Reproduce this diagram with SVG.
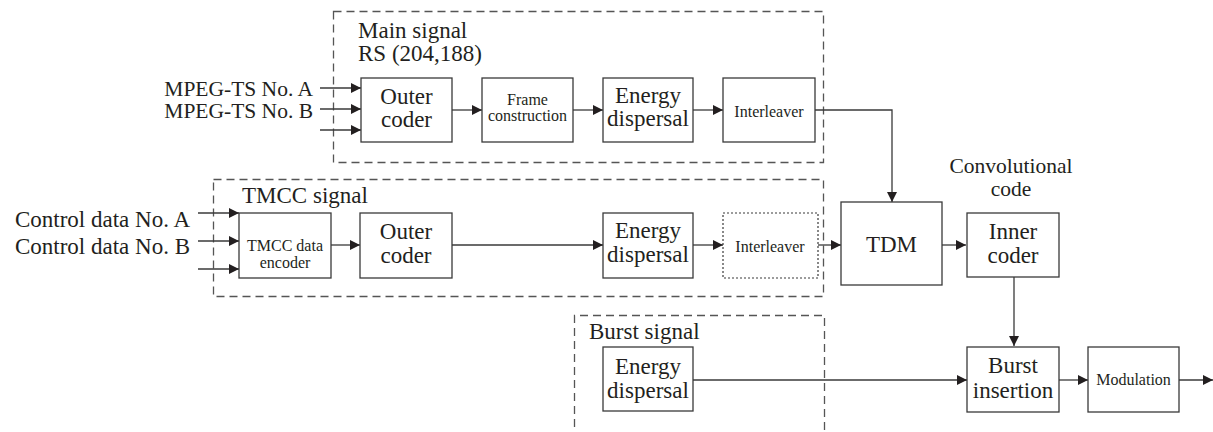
<svg xmlns="http://www.w3.org/2000/svg" width="1213" height="432" viewBox="0 0 1213 432">
<defs>
<marker id="ah" viewBox="0 0 10 10" refX="10" refY="5" markerWidth="10" markerHeight="10" markerUnits="userSpaceOnUse" orient="auto">
<path d="M0,0 L10,5 L0,10 z" fill="#231f20"/>
</marker>
</defs>
<style>
text{font-family:"Liberation Serif","Times New Roman",serif;fill:#231f20;}
.b{font-size:23px;}
.m{font-size:21.5px;}
.s{font-size:16px;}
.box{fill:#fff;stroke:#3a3a3a;stroke-width:1.3;}
.dot{fill:#fff;stroke:#3a3a3a;stroke-width:1.2;stroke-dasharray:2 2;}
.grp{fill:none;stroke:#555;stroke-width:1.3;stroke-dasharray:8 5;}
.c{fill:none;stroke:#3a3a3a;stroke-width:1.3;marker-end:url(#ah);}
</style>
<rect width="1213" height="432" fill="#fff"/>
<g id="groups">
<rect class="grp" x="333.5" y="11.5" width="490" height="151"/>
<rect class="grp" x="213.5" y="179.5" width="610" height="117"/>
<path class="grp" d="M574.5,440 V315.5 H824.5 V440"/>
<text class="b" x="358" y="38">Main signal</text>
<text class="b" x="358" y="61">RS (204,188)</text>
<text class="b" x="242" y="203">TMCC signal</text>
<text class="b" x="589" y="339">Burst signal</text>
<text class="m" x="1011" y="173" text-anchor="middle">Convolutional</text>
<text class="m" x="1011" y="196" text-anchor="middle">code</text>
</g>
<g id="inputs">
<text class="m" x="313" y="96" text-anchor="end">MPEG-TS No. A</text>
<text class="m" x="313" y="118" text-anchor="end">MPEG-TS No. B</text>
<text class="b" x="190" y="227" text-anchor="end">Control data No. A</text>
<text class="b" x="190" y="254" text-anchor="end">Control data No. B</text>
</g>
<g id="connectors">
<line class="c" x1="320" y1="88" x2="361" y2="88"/>
<line class="c" x1="320" y1="109" x2="361" y2="109"/>
<line class="c" x1="320" y1="130" x2="361" y2="130"/>
<line class="c" x1="452" y1="110" x2="482" y2="110"/>
<line class="c" x1="573" y1="110" x2="603" y2="110"/>
<line class="c" x1="693" y1="110" x2="723" y2="110"/>
<path class="c" d="M815,110 H892 V202"/>
<line class="c" x1="198" y1="213" x2="239" y2="213"/>
<line class="c" x1="198" y1="241" x2="239" y2="241"/>
<line class="c" x1="198" y1="269" x2="239" y2="269"/>
<line class="c" x1="331" y1="245" x2="360" y2="245"/>
<line class="c" x1="452" y1="245" x2="603" y2="245"/>
<line class="c" x1="693" y1="245" x2="723" y2="245"/>
<line class="c" x1="818" y1="245" x2="841" y2="245"/>
<line class="c" x1="942" y1="245" x2="966" y2="245"/>
<line class="c" x1="1014" y1="277" x2="1014" y2="346"/>
<line class="c" x1="693" y1="380" x2="967" y2="380"/>
<line class="c" x1="1059" y1="380" x2="1088" y2="380"/>
<line class="c" x1="1179" y1="380" x2="1213" y2="380"/>
</g>
<g id="main-outer-coder">
<rect class="box" x="361" y="78" width="91" height="64"/>
<text class="b" x="406.5" y="104" text-anchor="middle">Outer</text>
<text class="b" x="406.5" y="127" text-anchor="middle">coder</text>
</g>
<g id="frame-construction">
<rect class="box" x="482" y="78" width="91" height="64"/>
<text class="s" x="527.5" y="105" text-anchor="middle">Frame</text>
<text class="s" x="527.5" y="121" text-anchor="middle">construction</text>
</g>
<g id="main-energy-dispersal">
<rect class="box" x="603" y="78" width="90" height="64"/>
<text class="b" x="648" y="103" text-anchor="middle">Energy</text>
<text class="b" x="648" y="126" text-anchor="middle">dispersal</text>
</g>
<g id="main-interleaver">
<rect class="box" x="723" y="78" width="92" height="64"/>
<text class="s" x="769" y="117" text-anchor="middle">Interleaver</text>
</g>
<g id="tmcc-encoder">
<rect class="box" x="239" y="213" width="92" height="65"/>
<text class="s" x="285" y="251" text-anchor="middle">TMCC data</text>
<text class="s" x="285" y="268" text-anchor="middle">encoder</text>
</g>
<g id="tmcc-outer-coder">
<rect class="box" x="360" y="213" width="92" height="65"/>
<text class="b" x="406" y="239" text-anchor="middle">Outer</text>
<text class="b" x="406" y="263" text-anchor="middle">coder</text>
</g>
<g id="tmcc-energy-dispersal">
<rect class="box" x="603" y="213" width="90" height="65"/>
<text class="b" x="648" y="238" text-anchor="middle">Energy</text>
<text class="b" x="648" y="262" text-anchor="middle">dispersal</text>
</g>
<g id="tmcc-interleaver">
<rect class="dot" x="723" y="213" width="95" height="65"/>
<text class="s" x="770" y="252" text-anchor="middle">Interleaver</text>
</g>
<g id="tdm">
<rect class="box" x="841" y="202" width="101" height="83"/>
<text class="b" x="891.5" y="252" text-anchor="middle">TDM</text>
</g>
<g id="inner-coder">
<rect class="box" x="967" y="213" width="92" height="64"/>
<text class="b" x="1013" y="239" text-anchor="middle">Inner</text>
<text class="b" x="1013" y="263" text-anchor="middle">coder</text>
</g>
<g id="burst-energy-dispersal">
<rect class="box" x="603" y="347" width="90" height="64"/>
<text class="b" x="648" y="374" text-anchor="middle">Energy</text>
<text class="b" x="648" y="398" text-anchor="middle">dispersal</text>
</g>
<g id="burst-insertion">
<rect class="box" x="967" y="347" width="92" height="65"/>
<text class="b" x="1013" y="373" text-anchor="middle">Burst</text>
<text class="b" x="1013" y="398" text-anchor="middle">insertion</text>
</g>
<g id="modulation">
<rect class="box" x="1088" y="347" width="91" height="65"/>
<text class="s" x="1133.5" y="385" text-anchor="middle">Modulation</text>
</g>
</svg>
